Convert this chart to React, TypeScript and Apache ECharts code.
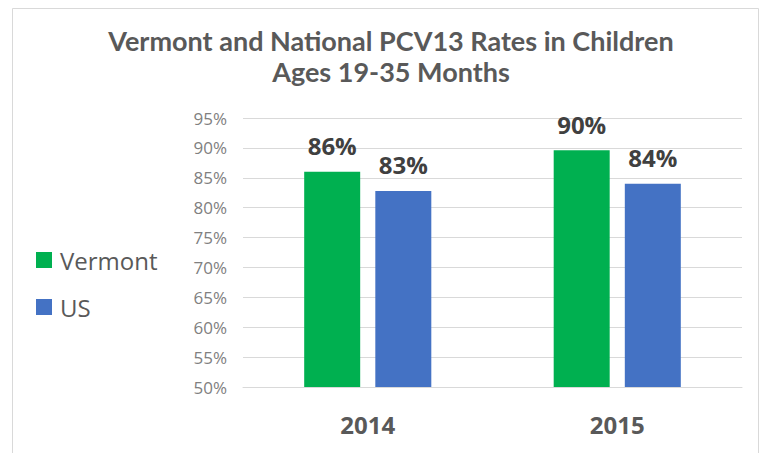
import React, { useEffect, useRef } from "react";
import * as echarts from "echarts";

const categories = ["2014", "2015"];
const vermont = [86.0, 89.6];
const us = [82.8, 84.0];
const yTicks = [50, 55, 60, 65, 70, 75, 80, 85, 90, 95];

export default function App() {
  const ref = useRef<HTMLDivElement>(null);
  useEffect(() => {
    if (!ref.current) return;
    const chart = echarts.init(ref.current, null, { renderer: "svg" });
    const font = "'Open Sans', 'Noto Sans', sans-serif";
    const labelStyle = {
      show: true,
      position: "top",
      distance: 14,
      fontFamily: font,
      fontSize: 24,
      fontWeight: "bold",
      color: "#404040",
      formatter: (p: any) => Math.round(p.value) + "%",
    };
    chart.setOption({
      animation: false,
      backgroundColor: "#ffffff",
      title: {
        text: "Vermont and National PCV13 Rates in Children\nAges 19-35 Months",
        left: 386,
        textAlign: "center",
        top: 20,
        textStyle: {
          fontFamily: "Lato, 'Open Sans', sans-serif",
          fontSize: 27,
          fontWeight: "bold",
          color: "#595959",
          lineHeight: 31,
        },
      },
      graphic: [
        {
          type: "rect",
          shape: { x: 12.5, y: 8.5, width: 746, height: 460 },
          style: { fill: "none", stroke: "#d9d9d9", lineWidth: 1 },
          silent: true,
        },
      ],
      legend: {
        orient: "vertical",
        left: 31,
        top: 243,
        itemWidth: 16,
        itemHeight: 16,
        itemGap: 23,
        icon: "rect",
        textStyle: { fontFamily: font, fontSize: 24, color: "#595959", padding: [0, 0, 0, 3] },
        data: ["Vermont", "US"],
      },
      grid: { left: 243, right: 24, top: 118, bottom: 66, containLabel: false },
      xAxis: {
        type: "category",
        data: categories,
        axisLine: { lineStyle: { color: "#d9d9d9" } },
        axisTick: { show: false },
        axisLabel: {
          fontFamily: font,
          fontSize: 24,
          fontWeight: "bold",
          color: "#595959",
          margin: 25,
        },
      },
      yAxis: {
        type: "value",
        min: 50,
        max: 95,
        interval: 5,
        axisLine: { show: false },
        axisTick: { show: false },
        splitLine: { lineStyle: { color: "#d9d9d9" } },
        axisLabel: {
          fontFamily: font,
          fontSize: 17,
          color: "#808080",
          margin: 16,
          formatter: (v: number) => (yTicks.includes(v) ? v + "%" : ""),
        },
      },
      series: [
        {
          name: "Vermont",
          type: "bar",
          data: vermont,
          barWidth: 56,
          barGap: "27%",
          itemStyle: { color: "#00b050" },
          label: labelStyle,
        },
        {
          name: "US",
          type: "bar",
          data: us,
          barWidth: 56,
          itemStyle: { color: "#4472c4" },
          label: labelStyle,
        },
      ],
    });
    return () => chart.dispose();
  }, []);
  return (
    <div
      ref={ref}
      style={{ position: "fixed", left: 0, top: 0, width: 766, height: 453 }}
    />
  );
}
